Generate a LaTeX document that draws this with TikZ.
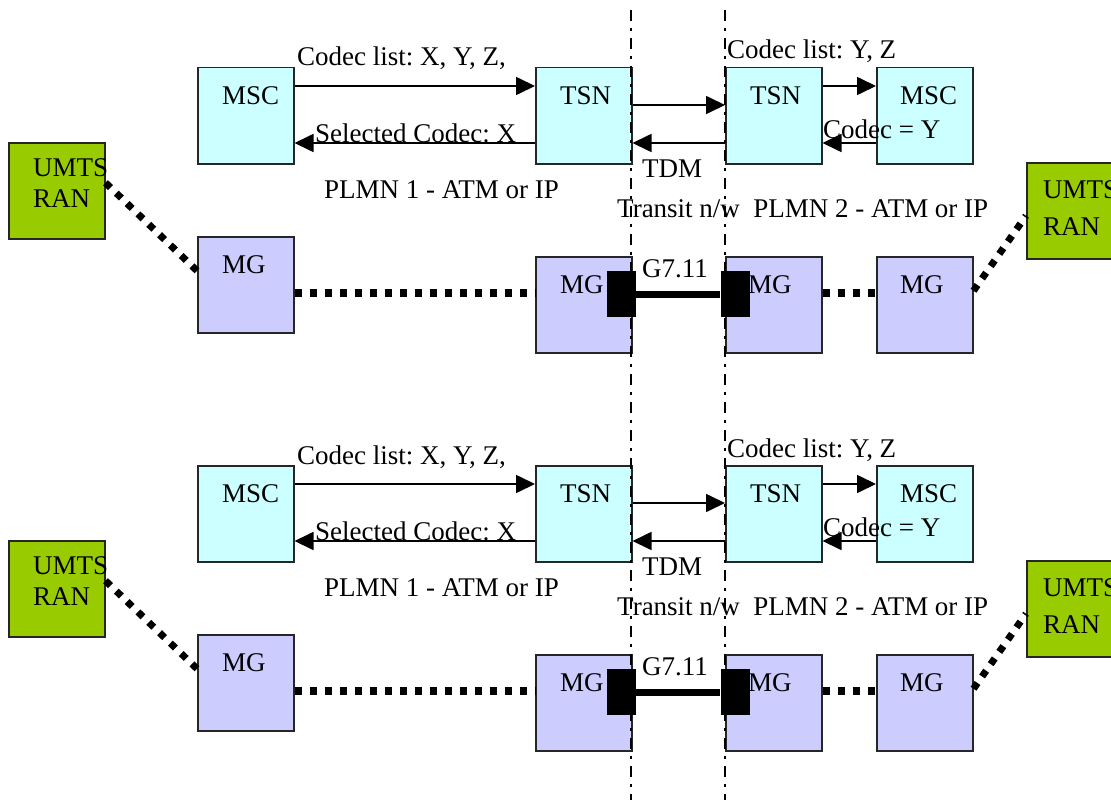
\documentclass[tikz,border=0pt]{standalone}
\usepackage{fontspec}
\setmainfont{Liberation Serif}
\usetikzlibrary{arrows.meta}
\definecolor{cyanbox}{HTML}{CCFFFF}
\definecolor{lavbox}{HTML}{CCCCFF}
\definecolor{greenbox}{HTML}{99CC00}
\frenchspacing
\begin{document}
\begin{tikzpicture}[x=1pt,y=-1pt,
  font=\fontsize{27}{32}\selectfont,
  box/.style={draw=black!85, line width=1.5pt, minimum width=96pt, minimum height=96pt, anchor=north west, inner sep=0pt},
  cbox/.style={box, fill=cyanbox},
  lbox/.style={box, fill=lavbox},
  gbox/.style={box, fill=greenbox},
  txt/.style={anchor=base west, inner sep=0pt},
  msg/.style={line width=1.7pt, -{Triangle[length=19pt,width=18pt]}},
  dots/.style={line width=7.5pt, dash pattern=on 7.5pt off 7.5pt},
  diag/.style={line width=7pt, dash pattern=on 7pt off 8pt},
  divider/.style={line width=2.4pt, dash pattern=on 11pt off 7pt on 3pt off 7pt},
  blk/.style={fill=black, minimum width=29pt, minimum height=46pt, inner sep=0pt}]
\useasboundingbox (0,0) rectangle (1111,800);
\foreach \dy/\s in {0/a,398/b}{
  % boxes
  \node[cbox] (msc1\s) at (197,67+\dy) {};
  \node[cbox] (tsn1\s) at (535,67+\dy) {};
  \node[cbox] (tsn2\s) at (725,67+\dy) {};
  \node[cbox] (msc2\s) at (876,67+\dy) {};
  \node[gbox] (umtsL\s) at (8,142+\dy) {};
  \node[gbox] (umtsR\s) at (1026,162+\dy) {};
  \node[lbox] (mg1\s) at (197,236+\dy) {};
  \node[lbox] (mg2\s) at (535,256+\dy) {};
  \node[lbox] (mg3\s) at (725,256+\dy) {};
  \node[lbox] (mg4\s) at (876,256+\dy) {};
  % row coordinates
  \coordinate (ra\s) at (0,86+\dy);
  \coordinate (rb\s) at (0,105+\dy);
  \coordinate (rc\s) at (0,143+\dy);
  \coordinate (rd\s) at (0,293+\dy);
  % message arrows
  \draw[msg] (msc1\s.east |- ra\s) -- (tsn1\s.west |- ra\s);
  \draw[msg] (tsn1\s.west |- rc\s) -- (msc1\s.east |- rc\s);
  \draw[msg] (tsn1\s.east |- rb\s) -- (tsn2\s.west |- rb\s);
  \draw[msg] (tsn2\s.west |- rc\s) -- (tsn1\s.east |- rc\s);
  \draw[msg] (tsn2\s.east |- ra\s) -- (msc2\s.west |- ra\s);
  \draw[msg] (msc2\s.west |- rc\s) -- (tsn2\s.east |- rc\s);
  % bearer connections
  \draw[diag] ([yshift=8pt]umtsL\s.east) -- ([yshift=14pt]mg1\s.west);
  \draw[dots] (mg1\s.east |- rd\s) -- (mg2\s.west |- rd\s);
  \draw[dots] (mg3\s.east |- rd\s) -- (mg4\s.west |- rd\s);
  \draw[diag] ([yshift=14pt]mg4\s.east) -- ([yshift=-5pt]umtsR\s.west);
}
% dividers
\coordinate (dtop1) at (631,10);
\coordinate (dbot1) at (631,800);
\coordinate (dtop2) at (725,10);
\coordinate (dbot2) at (725,800);
\draw[divider] (dtop1) -- (dbot1);
\draw[divider] (dtop2) -- (dbot2);
\foreach \dy/\s in {0/a,398/b}{
  \node[blk] (gl\s) at (621.5,294+\dy) {};
  \node[blk] (gr\s) at (735,294+\dy) {};
  \draw[line width=7pt] (gl\s) -- (gr\s);
  % texts
  \node[txt] (tmsc1\s) at (222,104+\dy) {MSC};
  \node[txt] (ttsn1\s) at (560,104+\dy) {TSN};
  \node[txt] (ttsn2\s) at (750,104+\dy) {TSN};
  \node[txt] (tmsc2\s) at (900,104+\dy) {MSC};
  \node[txt] (tmg1\s) at (222,273+\dy) {MG};
  \node[txt] (tmg2\s) at (560,293+\dy) {MG};
  \node[txt] (tmg3\s) at (748,293+\dy) {MG};
  \node[txt] (tmg4\s) at (900,293+\dy) {MG};
  \node[txt] (tuL1\s) at (33,176+\dy) {UMTS};
  \node[txt] (tuL2\s) at (33,207+\dy) {RAN};
  \node[txt] (tuR1\s) at (1043,198+\dy) {UMTS};
  \node[txt] (tuR2\s) at (1043,235+\dy) {RAN};
  \node[txt] (lcl1\s) at (297,66+\dy) {Codec list: X, Y, Z,};
  \node[txt] (lsel\s) at (315,142+\dy) {Selected Codec: X};
  \node[txt] (lpl1\s) at (324,198+\dy) {PLMN 1 - ATM or IP};
  \node[txt] (ltdm\s) at (642,177+\dy) {TDM};
  \node[txt] (lcl2\s) at (727,59+\dy) {Codec list: Y, Z};
  \node[txt] (lcy\s) at (823,138+\dy) {Codec = Y};
  \node[txt] (ltr\s) at (617,217+\dy) {Transit n/w~~PLMN 2 - ATM or IP};
  \node[txt] (lg\s) at (642,277+\dy) {G7.11};
}
\end{tikzpicture}
\end{document}
